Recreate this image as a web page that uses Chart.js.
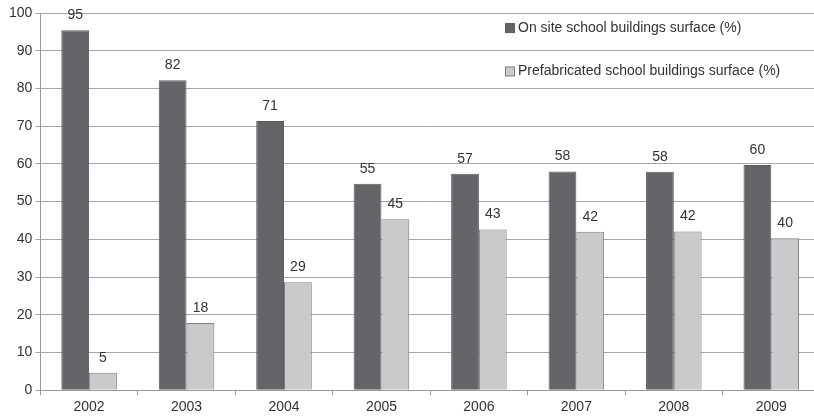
<!DOCTYPE html>
<html>
<head>
<meta charset="utf-8">
<script src="https://cdn.jsdelivr.net/npm/chart.js@4/dist/chart.umd.min.js"></script>
<style>
  html, body { margin: 0; padding: 0; background: #fff; overflow: hidden; }
  #wrap { position: relative; width: 820px; height: 420px; }
</style>
</head>
<body>
<div id="wrap"><canvas id="myChart" width="820" height="420"></canvas></div>
<script>
// data
const years = ['2002', '2003', '2004', '2005', '2006', '2007', '2008', '2009'];
const onSite = [95.4, 82.2, 71.4, 54.7, 57.4, 58.0, 57.9, 59.7];
const prefab = [4.6, 17.8, 28.6, 45.3, 42.6, 42.0, 42.1, 40.3];
const seriesNames = ['On site school buildings surface (%)', 'Prefabricated school buildings surface (%)'];

const fontFamily = '"Liberation Sans", Arial, sans-serif';

// values on top of the bars
const valueLabels = {
  id: 'valueLabels',
  afterDatasetsDraw(chart) {
    const ctx = chart.ctx;
    ctx.save();
    ctx.font = '14px ' + fontFamily;
    ctx.fillStyle = '#333';
    ctx.textAlign = 'center';
    ctx.textBaseline = 'bottom';
    chart.data.datasets.forEach((ds, i) => {
      chart.getDatasetMeta(i).data.forEach((bar, j) => {
        ctx.fillText(Math.round(ds.data[j]), bar.x, bar.y - 8);
      });
    });
    ctx.restore();
  }
};

// legend sitting inside the plot, one entry per grid band
const innerLegend = {
  id: 'innerLegend',
  afterDraw(chart) {
    const ctx = chart.ctx;
    const y = chart.scales.y;
    ctx.save();
    ctx.font = '14px ' + fontFamily;
    ctx.textBaseline = 'middle';
    chart.data.datasets.forEach((ds, i) => {
      const cy = y.getPixelForValue(96 - i * 11.5);
      ctx.fillStyle = ds.backgroundColor;
      ctx.strokeStyle = ds.borderColor;
      ctx.lineWidth = 1;
      ctx.fillRect(505.5, cy - 4.5, 9, 9);
      ctx.strokeRect(505.5, cy - 4.5, 9, 9);
      ctx.fillStyle = '#333';
      ctx.fillText(ds.label, 518, cy);
    });
    ctx.restore();
  }
};

var ctx = document.getElementById('myChart').getContext('2d');
var myBarChart = new Chart(ctx, {
  type: 'bar',
  data: {
    labels: years,
    datasets: [{
      label: seriesNames[0],
      data: onSite,
      backgroundColor: '#646568',
      borderColor: '#5a5b5e',
      borderWidth: 1
    }, {
      label: seriesNames[1],
      data: prefab,
      backgroundColor: '#c9cacc',
      borderColor: '#7d7e80',
      borderWidth: 1
    }]
  },
  options: {
    responsive: false,
    animation: false,
    layout: { padding: { top: 13, left: 6, right: 0, bottom: 0 } },
    datasets: {
      bar: { categoryPercentage: 0.57, barPercentage: 1.0 }
    },
    plugins: {
      legend: { display: false },
      tooltip: { enabled: false }
    },
    scales: {
      x: {
        grid: { display: true, drawOnChartArea: false, drawTicks: true, tickLength: 5, color: '#999', offset: true },
        border: { color: '#999' },
        ticks: { color: '#333', font: { family: fontFamily, size: 14 }, padding: 4 }
      },
      y: {
        min: 0,
        max: 100,
        ticks: { stepSize: 10, color: '#333', font: { family: fontFamily, size: 14 }, padding: 3 },
        grid: { color: '#a6a6a6', tickLength: 5 },
        border: { color: '#999' }
      }
    }
  },
  plugins: [valueLabels, innerLegend]
});
</script>
</body>
</html>
